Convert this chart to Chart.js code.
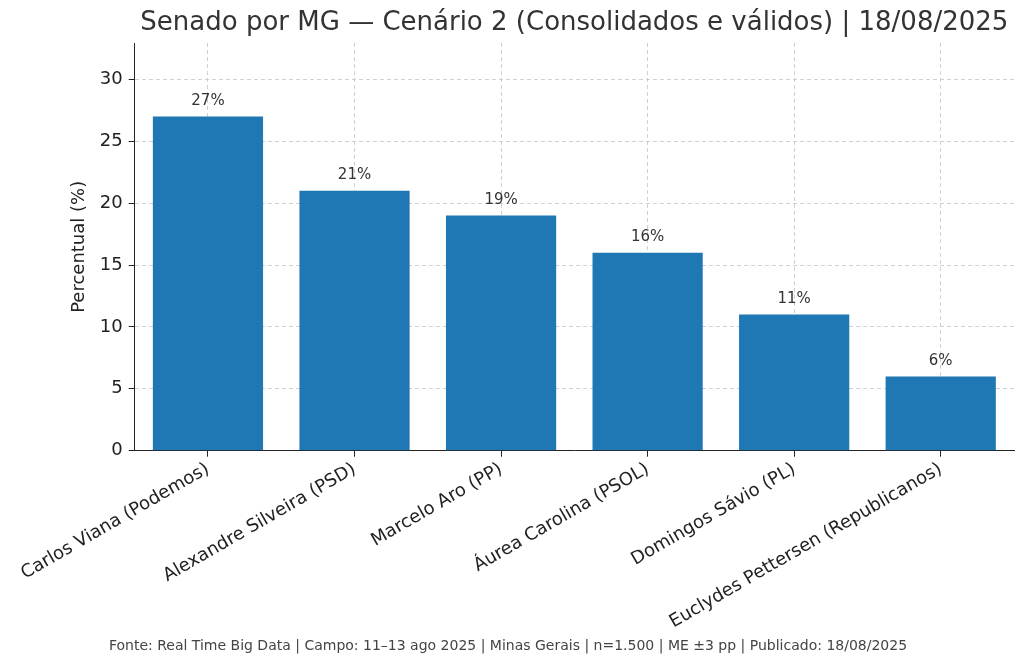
<!DOCTYPE html>
<html lang="pt">
<head>
<meta charset="UTF-8" />
<title>Senado por MG</title>
<style>
  html, body { margin: 0; padding: 0; background: #fff; }
  #wrap { width: 1024px; height: 666px; position: relative; }
</style>
<script src="https://cdn.jsdelivr.net/npm/chart.js"></script>
</head>
<body>
<div id="wrap"><canvas id="c" width="1024" height="666"></canvas></div>
<script>
  const candidates = [
    "Carlos Viana (Podemos)",
    "Alexandre Silveira (PSD)",
    "Marcelo Aro (PP)",
    "Áurea Carolina (PSOL)",
    "Domingos Sávio (PL)",
    "Euclydes Pettersen (Republicanos)"
  ];
  const percents = [27, 21, 19, 16, 11, 6];
  const yTicks = [0, 5, 10, 15, 20, 25, 30];

  const font = "'DejaVu Sans', sans-serif";

  const barLabels = {
    id: "barLabels",
    afterDatasetsDraw(chart) {
      const ctx = chart.ctx;
      const meta = chart.getDatasetMeta(0);
      ctx.save();
      ctx.font = "15px " + font;
      ctx.fillStyle = "#333";
      ctx.textAlign = "center";
      ctx.textBaseline = "bottom";
      meta.data.forEach((bar, i) => {
        ctx.fillText(percents[i] + "%", bar.x, bar.y - 8);
      });
      ctx.restore();
    }
  };

  const texts = {
    id: "texts",
    afterDraw(chart) {
      const ctx = chart.ctx;
      const a = chart.chartArea;
      ctx.save();
      ctx.fillStyle = "#333";
      ctx.textAlign = "center";
      ctx.textBaseline = "middle";
      ctx.font = "26px " + font;
      ctx.fillText("Senado por MG — Cenário 2 (Consolidados e válidos) | 18/08/2025", (a.left + a.right) / 2, 23);
      ctx.font = "14px " + font;
      ctx.fillStyle = "#444";
      ctx.fillText("Fonte: Real Time Big Data | Campo: 11–13 ago 2025 | Minas Gerais | n=1.500 | ME ±3 pp | Publicado: 18/08/2025", 508, 646);
      ctx.restore();
    }
  };

  new Chart(document.getElementById("c"), {
    type: "bar",
    data: {
      labels: candidates,
      datasets: [{
        data: percents,
        backgroundColor: "#1f77b4",
        barPercentage: 0.8,
        categoryPercentage: 0.94
      }]
    },
    options: {
      responsive: false,
      animation: false,
      devicePixelRatio: 1,
      layout: { padding: { left: 24, right: 10, top: 43, bottom: 31 } },
      scales: {
        y: {
          min: 0,
          max: 32.94,
          afterBuildTicks(axis) { axis.ticks = yTicks.map(v => ({ value: v })); },
          ticks: { color: "#222", font: { family: font, size: 18 }, padding: 6 },
          grid: { color: "#d0d0d0", tickLength: 6, tickColor: "#222" },
          border: { color: "#222", dash: [4, 3], display: true },
          title: { display: true, text: "Percentual (%)", color: "#222", font: { family: font, size: 18 } }
        },
        x: {
          afterFit(axis) { axis.paddingLeft += 14; },
          ticks: { color: "#222", font: { family: font, size: 18 }, maxRotation: 30, minRotation: 30, padding: 2 },
          grid: { offset: false, color: "#d0d0d0", tickLength: 6, tickColor: "#222" },
          border: { color: "#222", dash: [4, 3] }
        }
      },
      plugins: {
        legend: { display: false },
        tooltip: { enabled: false },
        title: { display: false }
      }
    },
    plugins: [barLabels, texts]
  });
</script>
</body>
</html>
